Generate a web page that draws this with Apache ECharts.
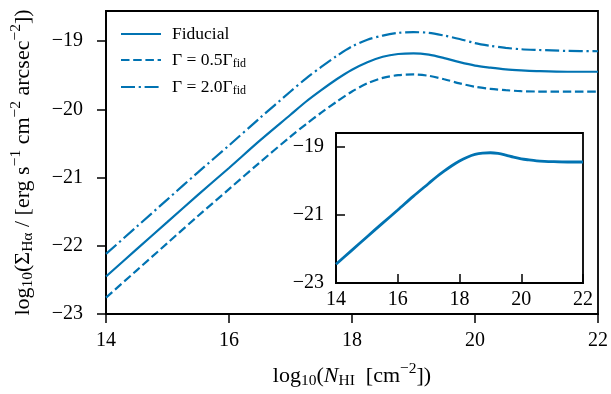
<!DOCTYPE html>
<html><head><meta charset="utf-8">
<script src="https://cdn.jsdelivr.net/npm/echarts@6/dist/echarts.min.js"></script>
<style>html,body{margin:0;padding:0;background:#fff}#c{width:611px;height:394px}</style>
</head><body><div id="c"></div>
<script>
// log10(N_HI) sample positions
const nhi = [14, 14.5, 15, 15.5, 16, 16.5, 17, 17.25, 17.5, 17.75, 18, 18.25, 18.5, 18.75, 19, 19.25, 19.5, 19.75, 20, 20.25, 20.5, 20.75, 21, 21.5, 22];
// log10(Sigma_Halpha)
const fiducial    = [-22.45, -22.05, -21.65, -21.25, -20.86, -20.46, -20.08, -19.89, -19.72, -19.56, -19.42, -19.31, -19.23, -19.19, -19.18, -19.20, -19.25, -19.31, -19.36, -19.39, -19.415, -19.43, -19.44, -19.45, -19.45];
const gammaHalf   = [-22.76, -22.36, -21.96, -21.56, -21.17, -20.78, -20.40, -20.22, -20.05, -19.89, -19.74, -19.62, -19.54, -19.50, -19.49, -19.51, -19.56, -19.62, -19.67, -19.70, -19.72, -19.735, -19.74, -19.74, -19.74];
const gammaDouble = [-22.12, -21.72, -21.32, -20.92, -20.53, -20.13, -19.74, -19.55, -19.38, -19.22, -19.08, -18.98, -18.92, -18.88, -18.87, -18.88, -18.92, -18.97, -19.03, -19.07, -19.10, -19.12, -19.13, -19.145, -19.15];
// inset curve (same fiducial model)
const insetCurve  = fiducial;

const xTicks = [14, 16, 18, 20, 22];
const yTicks = [-23, -22, -21, -20, -19];
const insetYTicks = [-23, -21, -19];
const seriesNames = ['Fiducial', 'Γ = 0.5Γfid', 'Γ = 2.0Γfid'];
const legendLabels = {'Fiducial': 'Fiducial', 'Γ = 0.5Γfid': 'Γ = 0.5Γ{sub|fid}', 'Γ = 2.0Γfid': 'Γ = 2.0Γ{sub|fid}'};

const FONT = 'Liberation Serif';
const BLUE = '#0173B2';
const pair = arr => nhi.map((x, i) => [x, arr[i]]);
const minus = v => (v < 0 ? '\u2212' + Math.abs(v) : String(v));

const rich = {
  sub: {fontFamily: FONT, fontSize: 15.5, color: '#000', padding: [10, 0, 0, 0]},
  sup: {fontFamily: FONT, fontSize: 15.5, color: '#000', padding: [0, 0, 14, 0]},
  it: {fontFamily: FONT, fontSize: 22, fontStyle: 'italic', color: '#000'}
};

const chart = echarts.init(document.getElementById('c'), null, {renderer: 'canvas'});
chart.setOption({
  animation: false,
  backgroundColor: '#fff',
  textStyle: {fontFamily: FONT},
  grid: [
    {left: 106, top: 11, width: 494, height: 303, show: true, borderColor: '#000', borderWidth: 1.8, backgroundColor: 'transparent'},
    {left: 336, top: 133, width: 247, height: 150, show: true, borderColor: '#000', borderWidth: 1.8, backgroundColor: '#fff'}
  ],
  xAxis: [
    {
      type: 'value', gridIndex: 0, min: 14, max: 22, interval: 2,
      axisLine: {lineStyle: {color: '#000', width: 1.8}},
      axisTick: {length: 9, lineStyle: {color: '#000', width: 1.5}},
      axisLabel: {fontFamily: FONT, fontSize: 20, color: '#000', margin: 17, formatter: minus},
      splitLine: {show: false},
      name: 'log{sub|10}({it|N}{sub|HI}  [cm{sup|\u22122}])',
      nameLocation: 'middle', nameGap: 47,
      nameTextStyle: {fontFamily: FONT, fontSize: 22, color: '#000', rich: rich}
    },
    {
      type: 'value', gridIndex: 1, min: 14, max: 22, interval: 2,
      axisLine: {lineStyle: {color: '#000', width: 1.8}},
      axisTick: {inside: true, length: 9, lineStyle: {color: '#000', width: 1.5}},
      axisLabel: {fontFamily: FONT, fontSize: 20, color: '#000', margin: 7, formatter: minus},
      splitLine: {show: false}
    }
  ],
  yAxis: [
    {
      type: 'value', gridIndex: 0, min: -23, max: -18.56,
      axisLine: {lineStyle: {color: '#000', width: 1.8}},
      axisTick: {length: 9, customValues: yTicks, lineStyle: {color: '#000', width: 1.5}},
      axisLabel: {fontFamily: FONT, fontSize: 20, color: '#000', margin: 23, customValues: yTicks, formatter: minus},
      splitLine: {show: false},
      name: 'log{sub|10}(Σ{sub|Hα} / [erg s{sup|\u22121} cm{sup|\u22122} arcsec{sup|\u22122}])',
      nameLocation: 'middle', nameGap: 68, nameRotate: 90,
      nameTextStyle: {fontFamily: FONT, fontSize: 22, color: '#000', rich: rich}
    },
    {
      type: 'value', gridIndex: 1, min: -23, max: -18.6,
      axisLine: {lineStyle: {color: '#000', width: 1.8}},
      axisTick: {inside: true, length: 9, customValues: insetYTicks, lineStyle: {color: '#000', width: 1.5}},
      axisLabel: {fontFamily: FONT, fontSize: 20, color: '#000', margin: 12, customValues: insetYTicks, formatter: minus},
      splitLine: {show: false}
    }
  ],
  legend: {
    orient: 'vertical', left: 115, top: 20, itemWidth: 40, itemHeight: 14, itemGap: 8,
    data: seriesNames,
    itemStyle: {opacity: 0},
    formatter: name => legendLabels[name],
    textStyle: {fontFamily: FONT, fontSize: 17.5, color: '#000', padding: [0, 0, 0, 6],
      rich: {sub: {fontFamily: FONT, fontSize: 12, color: '#000', padding: [8, 0, 0, 0]}}}
  },
  series: [
    {name: seriesNames[0], type: 'line', xAxisIndex: 0, yAxisIndex: 0, data: pair(fiducial), smooth: 0.3,
      symbol: 'none', lineStyle: {color: BLUE, width: 2.2, type: 'solid'}, itemStyle: {color: BLUE}},
    {name: seriesNames[1], type: 'line', xAxisIndex: 0, yAxisIndex: 0, data: pair(gammaHalf), smooth: 0.3,
      symbol: 'none', lineStyle: {color: BLUE, width: 2.2, type: [8.5, 3.7]}, itemStyle: {color: BLUE}},
    {name: seriesNames[2], type: 'line', xAxisIndex: 0, yAxisIndex: 0, data: pair(gammaDouble), smooth: 0.3,
      symbol: 'none', lineStyle: {color: BLUE, width: 2.2, type: [14, 3.7, 2.2, 3.7]}, itemStyle: {color: BLUE}},
    {name: 'inset', type: 'line', xAxisIndex: 1, yAxisIndex: 1, data: pair(insetCurve), smooth: 0.3,
      symbol: 'none', lineStyle: {color: BLUE, width: 2.8}, itemStyle: {color: BLUE}}
  ]
});
</script>
</body></html>
